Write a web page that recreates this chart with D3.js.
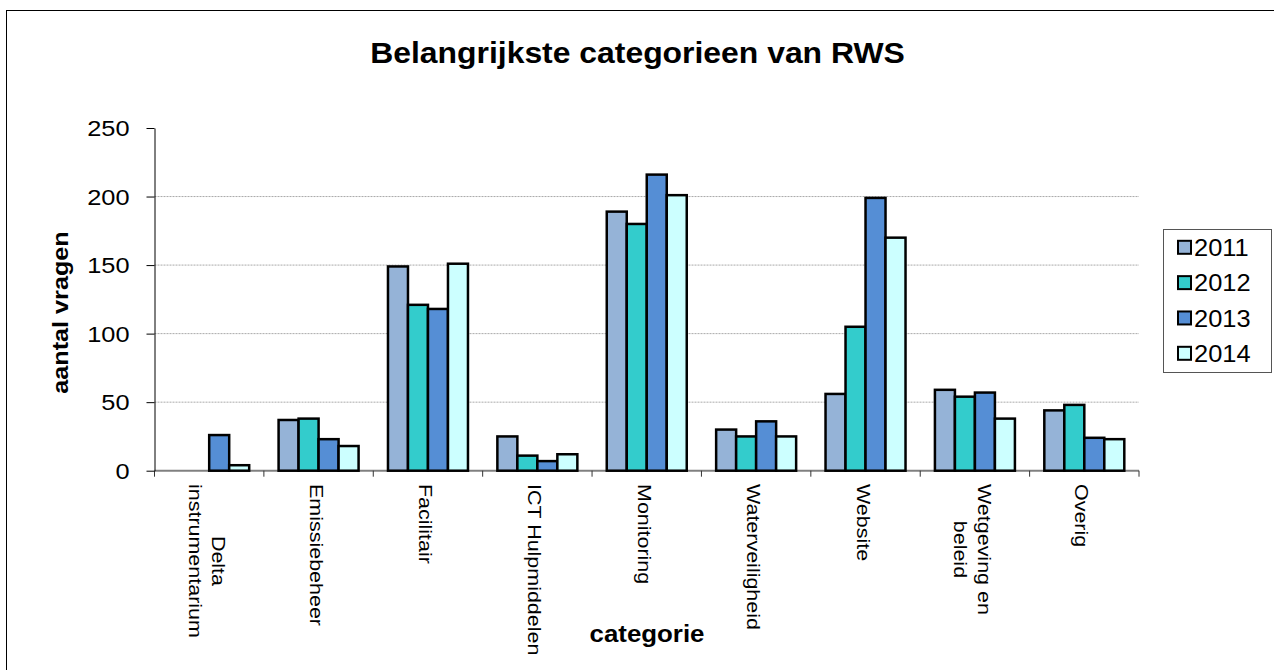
<!DOCTYPE html>
<html>
<head>
<meta charset="utf-8">
<script src="https://cdn.jsdelivr.net/npm/d3@7"></script>
<style>
  html, body { margin: 0; padding: 0; background: #fff; overflow: hidden; }
  svg { display: block; font-family: "Liberation Sans", Arial, Helvetica, sans-serif; }
</style>
</head>
<body>
<script>
// ---------- data ----------
const categories = ["Delta\ninstrumentarium", "Emissiebeheer", "Facilitair", "ICT Hulpmiddelen",
  "Monitoring", "Waterveiligheid", "Website", "Wetgeving en\nbeleid", "Overig"];
const years = ["2011", "2012", "2013", "2014"];
const values2011 = [0, 37, 149, 25, 189, 30, 56, 59, 44];
const values2012 = [0, 38, 121, 11, 180, 25, 105, 54, 48];
const values2013 = [26, 23, 118, 7, 216, 36, 199, 57, 24];
const values2014 = [4, 18, 151, 12, 201, 25, 170, 38, 23];
const yTicks = [0, 50, 100, 150, 200, 250];
const colors = ["#95B3D7", "#33CCCC", "#558ED5", "#CCFFFF"];
const titleText = "Belangrijkste categorieen van RWS";
const xTitle = "categorie";
const yTitle = "aantal vragen";

const seriesValues = [values2011, values2012, values2013, values2014];

// ---------- layout ----------
const W = 1274, H = 670;
const plot = { left: 154.5, right: 1139, top: 128, bottom: 470.7 };
const svg = d3.select("body").append("svg").attr("width", W).attr("height", H);

// outer frame (right and bottom edges lie outside the picture)
svg.append("rect").attr("x", 6.5).attr("y", 10.5).attr("width", 1300).attr("height", 700)
  .attr("fill", "none").attr("stroke", "#000").attr("stroke-width", 1);

const x = d3.scaleBand().domain(categories).range([plot.left, plot.right]).padding(0);
const xi = d3.scaleBand().domain(years).range([0, x.bandwidth()]).paddingInner(0).paddingOuter(0.735);
const y = d3.scaleLinear().domain([0, 250]).range([plot.bottom, plot.top]);

// gridlines
svg.append("g").selectAll("line").data(yTicks.filter(t => t > 0 && t < 250)).join("line")
  .attr("x1", plot.left).attr("x2", plot.right)
  .attr("y1", d => y(d)).attr("y2", d => y(d))
  .attr("stroke", "#aaaaaa").attr("stroke-width", 1).attr("stroke-dasharray", "2,1");

// x axis line + ticks at category boundaries
const boundaries = categories.map(c => x(c)).concat([x.range()[1]]);
svg.append("line").attr("x1", plot.left).attr("x2", plot.right)
  .attr("y1", y(0)).attr("y2", y(0)).attr("stroke", "#808080").attr("stroke-width", 2);
svg.append("g").selectAll("line").data(boundaries).join("line")
  .attr("x1", d => d).attr("x2", d => d).attr("y1", y(0)).attr("y2", y(0) + 6)
  .attr("stroke", "#333").attr("stroke-width", 1);

// y axis
const yScaleX = 1.18;
const yAxis = svg.append("g").attr("transform", `translate(${plot.left},0)`)
  .call(d3.axisLeft(y).tickValues(yTicks).tickSize(8).tickSizeOuter(0).tickPadding(18));
yAxis.select(".domain").attr("stroke", "#000").attr("stroke-width", 1);
yAxis.selectAll(".tick line").attr("stroke", "#000");
yAxis.selectAll(".tick text")
  .attr("font-size", 21.5).attr("fill", "#000")
  .attr("font-family", "Liberation Sans, Arial, sans-serif")
  .attr("x", -25 / yScaleX).attr("dy", "0.36em")
  .attr("transform", `scale(${yScaleX},1)`);

// bars
const groups = svg.append("g").selectAll("g").data(years).join("g")
  .attr("fill", (d, i) => colors[i]);
groups.selectAll("rect")
  .data((yr, i) => categories.map((c, j) => ({ c, yr, v: seriesValues[i][j] })).filter(d => d.v > 0))
  .join("rect")
  .attr("x", d => x(d.c) + xi(d.yr))
  .attr("width", xi.bandwidth())
  .attr("y", d => y(d.v))
  .attr("height", d => y(0) - y(d.v))
  .attr("stroke", "#000").attr("stroke-width", 2.5);

// x tick labels (rotated)
const xlScale = 1.13, xlSize = 19, lineGap = 23.4;
const labelTop = 484;
categories.forEach(c => {
  const lines = c.split("\n");
  const cx = x(c) + x.bandwidth() / 2;
  const t = svg.append("text")
    .attr("transform", `translate(${cx},${labelTop}) rotate(90) scale(${xlScale},1)`)
    .attr("font-size", xlSize).attr("fill", "#000");
  const spans = lines.map((ln, i) => t.append("tspan").text(ln)
    .attr("y", 9 - (lines.length - 1) / 2 * lineGap + i * lineGap));
  if (lines.length > 1) {
    const L = d3.max(spans, s => s.node().getComputedTextLength());
    spans.forEach(s => s.attr("x", L / 2).attr("text-anchor", "middle"));
  } else {
    spans[0].attr("x", 0);
  }
});

// title
svg.append("text")
  .attr("transform", `translate(637.5,63) scale(1.1,1)`)
  .attr("text-anchor", "middle").attr("font-size", 29).attr("font-weight", "bold")
  .text(titleText);

// axis titles
svg.append("text")
  .attr("transform", `translate(647,642) scale(1.1,1)`)
  .attr("text-anchor", "middle").attr("font-size", 23.5).attr("font-weight", "bold")
  .text(xTitle);
svg.append("text")
  .attr("transform", `translate(68,312.5) rotate(-90) scale(1.12,1)`)
  .attr("text-anchor", "middle").attr("font-size", 22.5).attr("font-weight", "bold")
  .text(yTitle);

// legend
const legend = svg.append("g");
legend.append("rect").attr("x", 1163.5).attr("y", 229.5).attr("width", 108).attr("height", 143)
  .attr("fill", "#fff").attr("stroke", "#555").attr("stroke-width", 1);
const legendRow = d3.scalePoint().domain(years).range([247.3, 353.3]);
const li = legend.selectAll("g").data(years).join("g");
li.append("rect")
  .attr("x", 1178).attr("y", d => legendRow(d) - 6.5).attr("width", 13).attr("height", 13)
  .attr("fill", (d, i) => colors[i]).attr("stroke", "#000").attr("stroke-width", 2);
li.append("text")
  .attr("transform", d => `translate(1194,${legendRow(d) + 8.6}) scale(1.06,1)`)
  .attr("font-size", 24).attr("fill", "#000")
  .text(d => d);
</script>
</body>
</html>
